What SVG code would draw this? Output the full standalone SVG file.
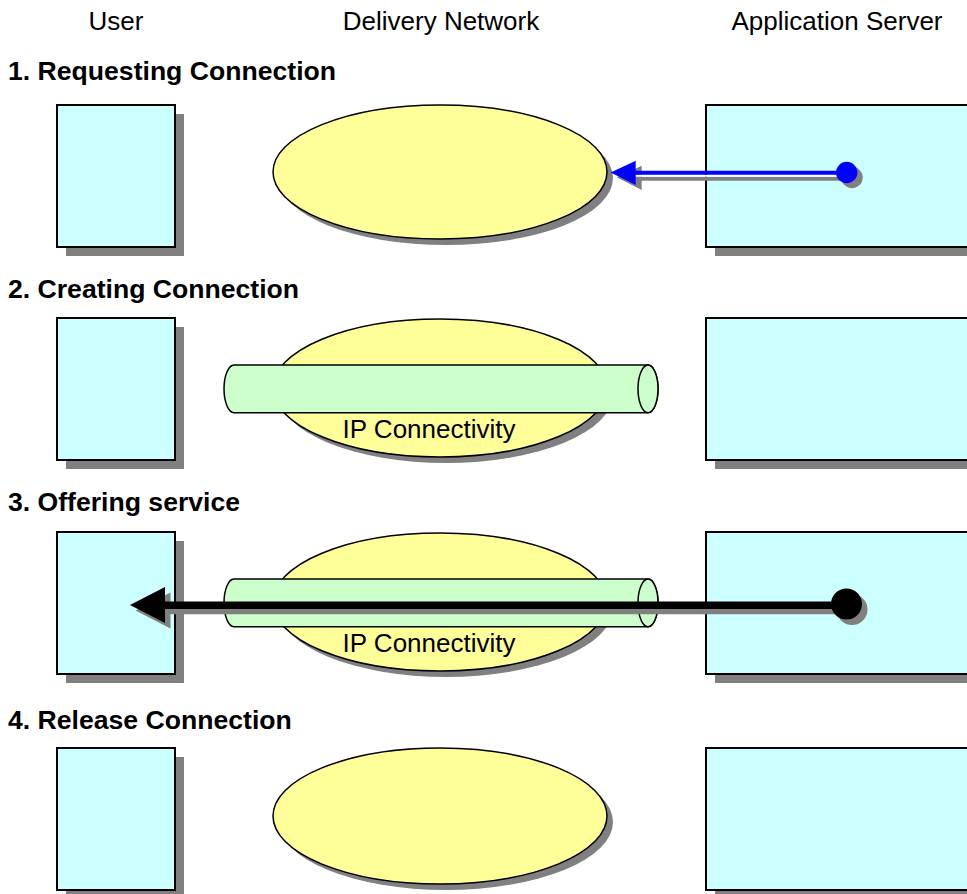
<svg xmlns="http://www.w3.org/2000/svg" width="967" height="894" viewBox="0 0 967 894">
<style>
text{font-family:"Liberation Sans",Arial,sans-serif;fill:#000}
.hdr{font-size:26px}
.ttl{font-size:26.6px;font-weight:bold}
.lbl{font-size:26px}
.box{fill:#CCFFFF;stroke:#000;stroke-width:2}
.ell{fill:#FFFF99;stroke:#000;stroke-width:1.5}
.shd{fill:#808080;stroke:none}
.cyl{fill:#CCFFCC;stroke:#000;stroke-width:1.5}
</style>
<rect width="967" height="894" fill="#fff"/>
<g id="headers">
<text class="hdr" x="116" y="30" text-anchor="middle">User</text>
<text class="hdr" x="441" y="30" text-anchor="middle">Delivery Network</text>
<text class="hdr" x="837" y="30" text-anchor="middle">Application Server</text>
</g>
<g id="titles">
<text class="ttl" x="8" y="80">1. Requesting Connection</text>
<text class="ttl" x="8" y="298">2. Creating Connection</text>
<text class="ttl" x="8" y="511">3. Offering service</text>
<text class="ttl" x="8" y="729">4. Release Connection</text>
</g>
<!-- Section 1 -->
<g id="user1"><rect class="shd" x="66" y="114" width="118" height="142"/><rect class="box" x="57" y="105" width="118" height="142"/></g>
<g id="net1"><ellipse class="shd" cx="446" cy="178" rx="167" ry="67"/><ellipse class="ell" cx="440" cy="172" rx="167" ry="67"/></g>
<g id="server1"><rect class="shd" x="715" y="114" width="270" height="142"/><rect class="box" x="706" y="105" width="270" height="142"/></g>
<!-- Section 2 -->
<g id="user2"><rect class="shd" x="66" y="327" width="118" height="142"/><rect class="box" x="57" y="318" width="118" height="142"/></g>
<g id="net2"><ellipse class="shd" cx="446" cy="394" rx="167" ry="69"/><ellipse class="ell" cx="440" cy="388" rx="167" ry="69"/>
<path class="cyl" d="M234,365 H648 A10,23.85 0 0 1 648,412.7 H234 A10,23.85 0 0 1 234,365 Z"/>
<ellipse class="cyl" cx="648" cy="388.85" rx="10" ry="23.85"/>
<text class="lbl" x="429" y="437.5" text-anchor="middle">IP Connectivity</text></g>
<g id="server2"><rect class="shd" x="715" y="327" width="270" height="142"/><rect class="box" x="706" y="318" width="270" height="142"/></g>
<!-- Section 3 -->
<g id="user3"><rect class="shd" x="66" y="541" width="118" height="142"/><rect class="box" x="57" y="532" width="118" height="142"/></g>
<g id="net3"><ellipse class="shd" cx="446" cy="608" rx="167" ry="69"/><ellipse class="ell" cx="440" cy="602" rx="167" ry="69"/>
<path class="cyl" d="M234,579 H648 A10,23.85 0 0 1 648,626.7 H234 A10,23.85 0 0 1 234,579 Z"/>
<ellipse class="cyl" cx="648" cy="602.85" rx="10" ry="23.85"/>
<text class="lbl" x="429" y="651.5" text-anchor="middle">IP Connectivity</text></g>
<g id="server3"><rect class="shd" x="715" y="541" width="270" height="142"/><rect class="box" x="706" y="532" width="270" height="142"/></g>
<!-- Section 4 -->
<g id="user4"><rect class="shd" x="66" y="757" width="118" height="142"/><rect class="box" x="57" y="748" width="118" height="142"/></g>
<g id="net4"><ellipse class="shd" cx="446" cy="822" rx="167" ry="68"/><ellipse class="ell" cx="440" cy="816" rx="167" ry="68"/></g>
<g id="server4"><rect class="shd" x="715" y="757" width="270" height="142"/><rect class="box" x="706" y="748" width="270" height="142"/></g>
<g id="connectors">
<!-- blue request arrow -->
<line x1="630" y1="178.7" x2="852" y2="178.7" stroke="#808080" stroke-width="4"/>
<polygon class="shd" points="616.7,177.3 641.7,165.7 641.7,190"/>
<circle class="shd" cx="852" cy="177.5" r="10.7"/>
<line x1="630" y1="175.7" x2="846.7" y2="175.7" stroke="#fff" stroke-width="2"/>
<line x1="630" y1="172.7" x2="846.7" y2="172.7" stroke="#0000FF" stroke-width="4"/>
<polygon fill="#0000FF" points="610.7,172.5 635.7,160.7 635.7,185"/>
<circle fill="#0000FF" cx="846.7" cy="172.5" r="10.7"/>
<!-- black service arrow -->
<line x1="160" y1="610.5" x2="852" y2="610.5" stroke="#808080" stroke-width="7.5"/>
<polygon class="shd" points="135.5,610.5 170.5,592.5 170.5,628.5"/>
<circle class="shd" cx="852" cy="609.5" r="15.5"/>
<line x1="160" y1="605.3" x2="846.5" y2="605.3" stroke="#000" stroke-width="7.5"/>
<polygon fill="#000" points="130,605 165,587 165,623"/>
<circle fill="#000" cx="846.5" cy="604" r="15.5"/>
</g>
</svg>
